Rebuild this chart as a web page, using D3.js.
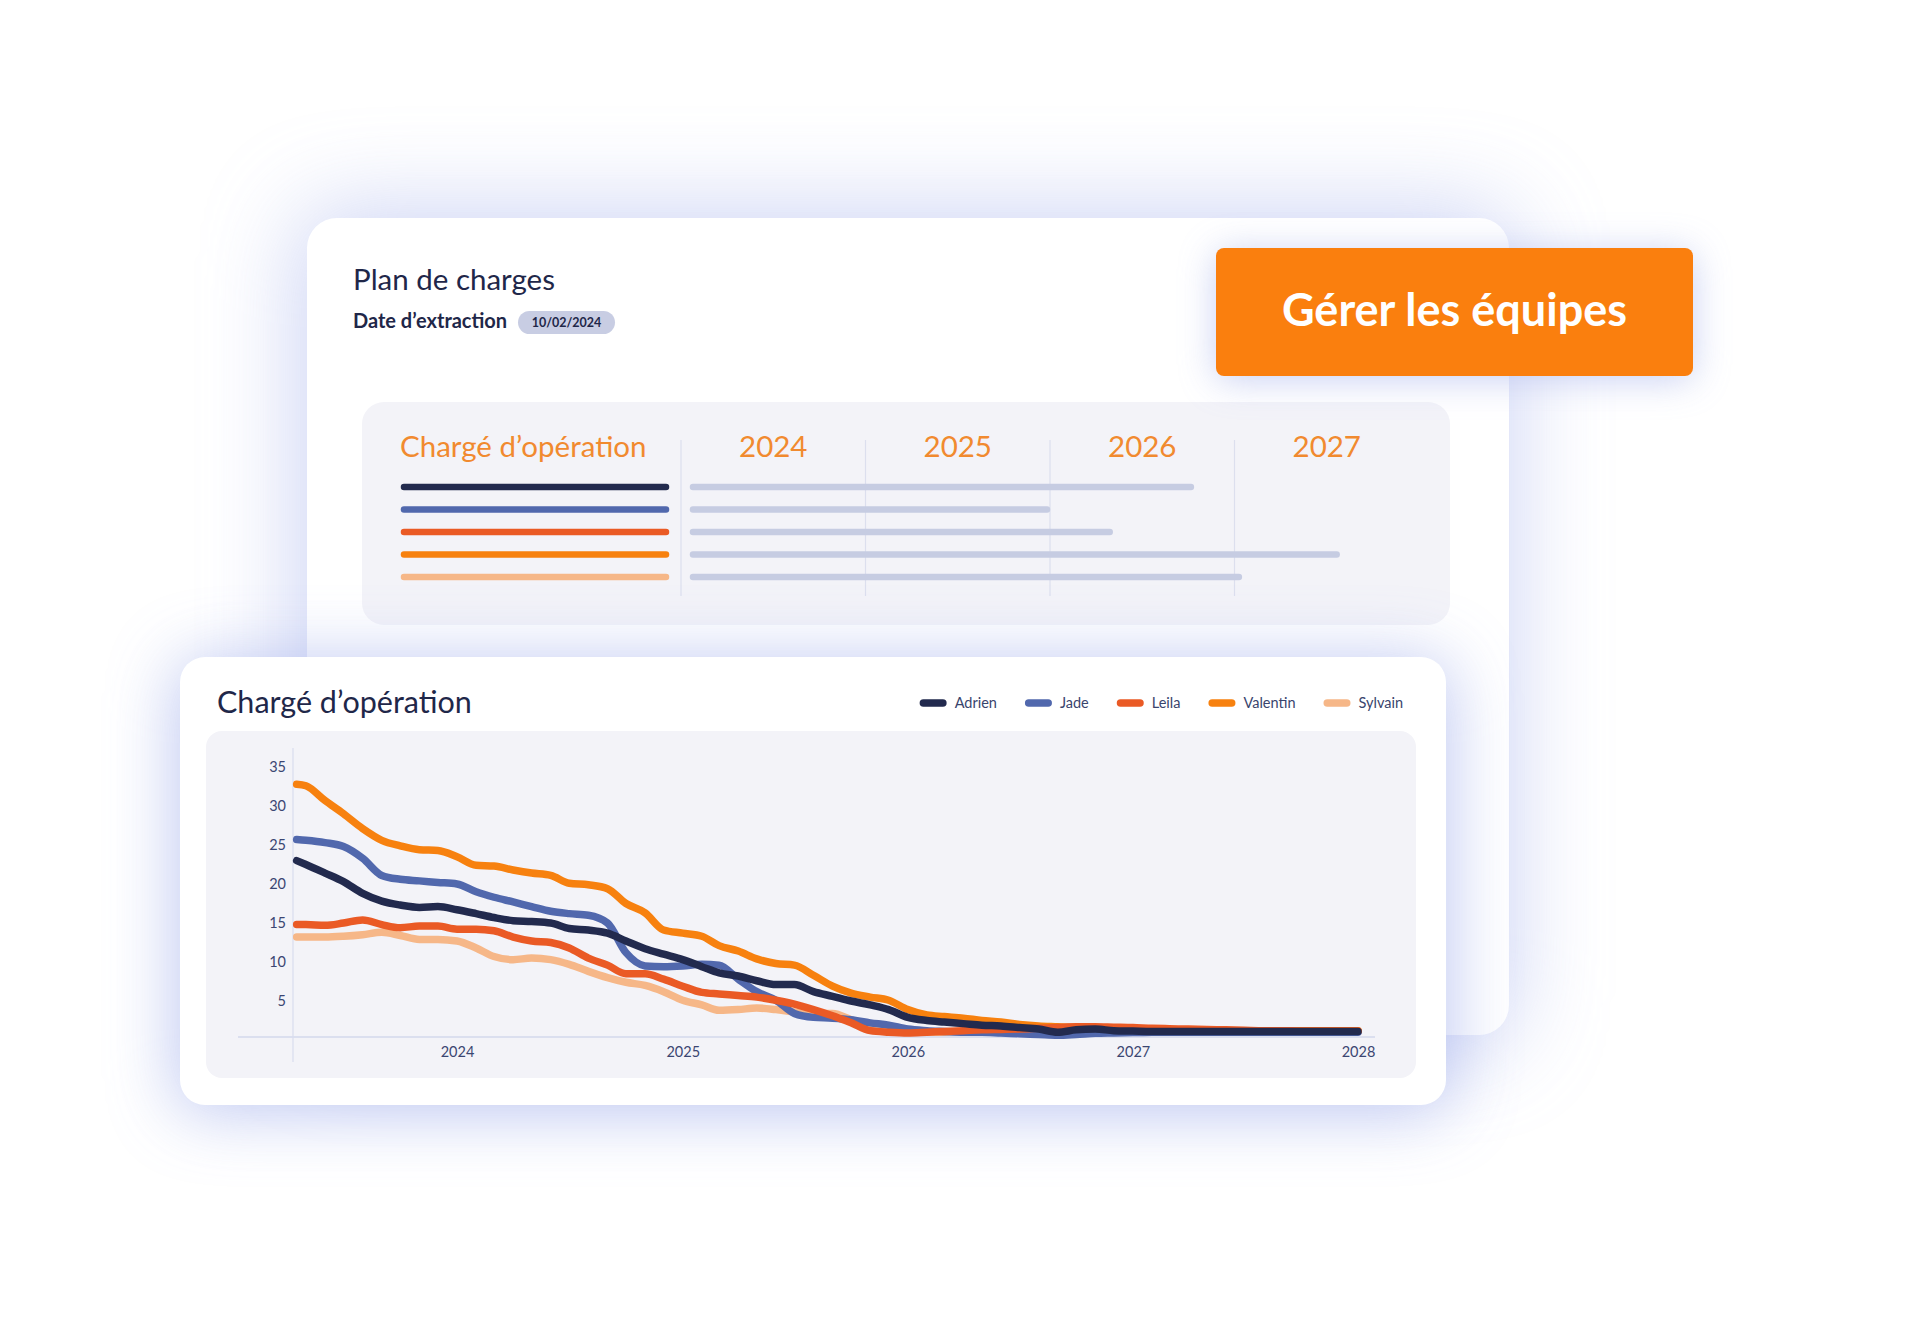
<!DOCTYPE html>
<html>
<head>
<meta charset="utf-8">
<script src="https://cdn.jsdelivr.net/npm/d3@7"></script>
<style>
html,body{margin:0;padding:0;background:#ffffff;}
svg{display:block;font-family:Lato,"Open Sans",sans-serif;}
</style>
</head>
<body>
<svg id="c" width="1921" height="1331"></svg>
<script>
// ---------- DATA ----------
const seriesNames = ["Adrien", "Jade", "Leila", "Valentin", "Sylvain"];
const seriesColors = ["#222a4e", "#5168ad", "#ea5a25", "#f7810f", "#f6b788"];

const dates = [
  "2023-04-16",
  "2023-05-01","2023-06-01","2023-07-01","2023-08-01","2023-09-01","2023-10-01","2023-11-01","2023-12-01",
  "2024-01-01","2024-02-01","2024-03-01","2024-04-01","2024-05-01","2024-06-01","2024-07-01","2024-08-01","2024-09-01","2024-10-01","2024-11-01","2024-12-01",
  "2025-01-01","2025-02-01","2025-03-01","2025-04-01","2025-05-01","2025-06-01","2025-07-01","2025-08-01","2025-09-01","2025-10-01","2025-11-01","2025-12-01",
  "2026-01-01","2026-02-01","2026-03-01","2026-04-01","2026-05-01","2026-06-01","2026-07-01","2026-08-01","2026-09-01","2026-10-01","2026-11-01","2026-12-01",
  "2027-01-01","2027-02-01","2027-03-01","2027-04-01","2027-05-01","2027-06-01","2027-07-01","2027-08-01","2027-09-01","2027-10-01","2027-11-01","2027-12-01",
  "2028-01-01"
];

const adrien = [
  23.0, 22.5, 21.4, 20.3, 18.8, 17.8, 17.3, 17.0, 17.1,
  16.7, 16.2, 15.7, 15.3, 15.2, 15.0, 14.3, 14.1, 13.7, 12.7, 11.7, 11.0,
  10.3, 9.4, 8.6, 8.2, 7.6, 7.1, 7.1, 6.2, 5.6, 5.0, 4.5, 3.9,
  2.9, 2.5, 2.3, 2.1, 1.9, 1.8, 1.6, 1.4, 1.0, 1.3, 1.4, 1.2,
  1.15, 1.1, 1.1, 1.1, 1.1, 1.1, 1.1, 1.1, 1.1, 1.1, 1.1, 1.1,
  1.1
];
const jade = [
  25.7, 25.6, 25.3, 24.8, 23.3, 21.1, 20.6, 20.4, 20.2,
  20.0, 19.0, 18.3, 17.7, 17.1, 16.5, 16.2, 16.0, 15.0, 11.2, 9.5, 9.4,
  9.5, 9.7, 9.6, 7.8, 6.2, 5.1, 3.4, 2.9, 2.8, 2.6, 2.2, 1.9,
  1.4, 1.2, 1.1, 1.0, 1.0, 0.9, 0.8, 0.7, 0.6, 0.7, 0.85, 0.9,
  0.95, 1.0, 1.0, 1.0, 1.0, 1.0, 1.0, 1.0, 1.0, 1.0, 1.0, 1.0,
  1.0
];
const leila = [
  14.8, 14.8, 14.7, 15.0, 15.4, 14.8, 14.4, 14.6, 14.6,
  14.2, 14.2, 14.0, 13.2, 12.7, 12.5, 11.8, 10.5, 9.6, 8.5, 8.5, 7.8,
  6.9, 6.1, 5.9, 5.7, 5.5, 5.1, 4.6, 3.9, 3.1, 2.2, 1.2, 1.0,
  0.9, 1.0, 1.1, 1.2, 1.3, 1.35, 1.4, 1.5, 1.6, 1.7, 1.7, 1.65,
  1.6, 1.5, 1.45, 1.4, 1.35, 1.3, 1.25, 1.2, 1.2, 1.15, 1.15, 1.15,
  1.15
];
const valentin = [
  32.8, 32.6, 30.7, 29.0, 27.1, 25.6, 24.9, 24.4, 24.3,
  23.5, 22.4, 22.3, 21.8, 21.4, 21.1, 20.1, 19.9, 19.4, 17.5, 16.3, 14.1,
  13.7, 13.3, 12.1, 11.4, 10.4, 9.8, 9.6, 8.3, 6.9, 6.0, 5.5, 5.1,
  3.9, 3.2, 3.0, 2.8, 2.5, 2.3, 2.0, 1.8, 1.7, 1.6, 1.5, 1.5,
  1.4, 1.4, 1.3, 1.3, 1.3, 1.2, 1.2, 1.2, 1.2, 1.2, 1.2, 1.2,
  1.2
];
const sylvain = [
  13.2, 13.2, 13.2, 13.3, 13.5, 13.8, 13.4, 12.9, 12.9,
  12.7, 11.8, 10.7, 10.3, 10.5, 10.3, 9.7, 8.8, 8.0, 7.4, 7.0, 6.2,
  5.1, 4.5, 3.8, 3.9, 4.1, 3.9, 3.6, 3.4, 3.4, 2.6, 1.6, 1.2,
  1.0, 1.0, 1.0, 1.1, 1.1, 1.2, 1.2, 1.3, 1.3, 1.4, 1.5, 1.5,
  1.4, 1.4, 1.3, 1.3, 1.3, 1.2, 1.2, 1.2, 1.2, 1.2, 1.2, 1.2,
  1.2
];
const seriesValues = [adrien, jade, leila, valentin, sylvain];

const yTicks = [5, 10, 15, 20, 25, 30, 35];
const xTickYears = ["2024", "2025", "2026", "2027", "2028"];

// back panel (plan de charges)
const planYears = [2024, 2025, 2026, 2027];
const planEnd = [2026.78, 2026.0, 2026.34, 2027.57, 2027.04];

const texts = {
  planTitle: "Plan de charges",
  dateLabel: "Date d\u2019extraction",
  dateValue: "10/02/2024",
  button: "G\u00e9rer les \u00e9quipes",
  colTitle: "Charg\u00e9 d\u2019op\u00e9ration",
  chartTitle: "Charg\u00e9 d\u2019op\u00e9ration"
};

// ---------- DRAW ----------
const svg = d3.select("#c");
const defs = svg.append("defs");
function blurFilter(id, sd) {
  const f = defs.append("filter").attr("id", id)
    .attr("x", "-50%").attr("y", "-50%").attr("width", "200%").attr("height", "200%");
  f.append("feGaussianBlur").attr("stdDeviation", sd);
}
blurFilter("blurBig", 48);
blurFilter("blurMid", 34);
blurFilter("blurBtn", 18);

const navy = "#1f2749";

// back card shadow + card
svg.append("rect").attr("x", 300).attr("y", 212).attr("width", 1210).attr("height", 830)
  .attr("rx", 30).attr("fill", "#b9c3f0").attr("opacity", 0.75).attr("filter", "url(#blurBig)");
svg.append("rect").attr("x", 307).attr("y", 218).attr("width", 1202).attr("height", 817)
  .attr("rx", 30).attr("fill", "#ffffff");

// header texts
svg.append("text").attr("x", 353).attr("y", 290).attr("fill", navy)
  .attr("font-size", 29.5).attr("font-weight", 400).text(texts.planTitle);
svg.append("text").attr("x", 353).attr("y", 328).attr("fill", navy)
  .attr("font-size", 20).attr("font-weight", 700).text(texts.dateLabel);
svg.append("rect").attr("x", 518).attr("y", 311).attr("width", 97).attr("height", 23)
  .attr("rx", 11.5).attr("fill", "#c8cde3");
svg.append("text").attr("x", 566.5).attr("y", 327).attr("text-anchor", "middle").attr("fill", navy)
  .attr("font-size", 12.5).attr("font-weight", 700).text(texts.dateValue);

// back inner panel
svg.append("rect").attr("x", 362).attr("y", 402).attr("width", 1088).attr("height", 223)
  .attr("rx", 22).attr("fill", "#f3f3f8");

const orangeText = "#f18a2f";
const xb = d3.scaleLinear().domain([2024, 2028]).range([681, 1419]);
svg.append("text").attr("x", 400).attr("y", 457).attr("fill", orangeText)
  .attr("font-size", 29.5).attr("font-weight", 400).text(texts.colTitle);
svg.selectAll("text.planYear").data(planYears).enter().append("text")
  .attr("class", "planYear")
  .attr("x", d => xb(d + 0.5)).attr("y", 457).attr("text-anchor", "middle")
  .attr("fill", orangeText).attr("font-size", 29.5).text(d => d);
svg.selectAll("line.sep").data(planYears).enter().append("line")
  .attr("class", "sep")
  .attr("x1", d => xb(d)).attr("x2", d => xb(d)).attr("y1", 440).attr("y2", 596)
  .attr("stroke", "#dcdfee").attr("stroke-width", 1.2);

const rowY = d3.scalePoint().domain(seriesNames).range([487, 577]);
svg.selectAll("line.colorBar").data(seriesNames).enter().append("line")
  .attr("class", "colorBar")
  .attr("x1", 404).attr("x2", 666)
  .attr("y1", d => rowY(d)).attr("y2", d => rowY(d))
  .attr("stroke", (d, i) => seriesColors[i]).attr("stroke-width", 6.5).attr("stroke-linecap", "round");
svg.selectAll("line.grayBar").data(planEnd).enter().append("line")
  .attr("class", "grayBar")
  .attr("x1", xb(2024) + 12).attr("x2", d => xb(d) - 3)
  .attr("y1", (d, i) => rowY(seriesNames[i])).attr("y2", (d, i) => rowY(seriesNames[i]))
  .attr("stroke", "#c6cce2").attr("stroke-width", 6.5).attr("stroke-linecap", "round");

// button
svg.append("rect").attr("x", 1216).attr("y", 252).attr("width", 477).attr("height", 128)
  .attr("rx", 10).attr("fill", "#bcc5ef").attr("opacity", 0.8).attr("filter", "url(#blurBtn)");
svg.append("rect").attr("x", 1216).attr("y", 248).attr("width", 477).attr("height", 128)
  .attr("rx", 8).attr("fill", "#fa7f0e");
svg.append("text").attr("x", 1454.5).attr("y", 326).attr("text-anchor", "middle")
  .attr("fill", "#ffffff").attr("font-size", 45).attr("font-weight", 700).text(texts.button);

// front card
svg.append("rect").attr("x", 176).attr("y", 660).attr("width", 1274).attr("height", 452)
  .attr("rx", 25).attr("fill", "#aebaee").attr("opacity", 0.8).attr("filter", "url(#blurMid)");
svg.append("rect").attr("x", 180).attr("y", 657).attr("width", 1266).attr("height", 448)
  .attr("rx", 25).attr("fill", "#ffffff");

svg.append("text").attr("x", 217).attr("y", 713).attr("fill", navy)
  .attr("font-size", 30.5).attr("font-weight", 400).text(texts.chartTitle);

// legend (right aligned)
const legend = svg.append("g");
const legItems = legend.selectAll("g").data(seriesNames).enter().append("g");
legItems.append("rect").attr("x", 0).attr("y", -3.75).attr("width", 27).attr("height", 7.5)
  .attr("rx", 3.75).attr("fill", (d, i) => seriesColors[i]);
legItems.append("text").attr("x", 35).attr("y", 5).attr("fill", "#39446d")
  .attr("font-size", 14.5).text(d => d);
let cursor = 0;
const legGap = 28;
legItems.each(function () {
  const w = d3.select(this).select("text").node().getComputedTextLength();
  d3.select(this).attr("transform", `translate(${cursor},0)`);
  cursor += 35 + w + legGap;
});
const totalW = cursor - legGap;
legend.attr("transform", `translate(${1403 - totalW},703)`);

// chart inner panel
svg.append("rect").attr("x", 206).attr("y", 731).attr("width", 1210).attr("height", 347)
  .attr("rx", 16).attr("fill", "#f3f3f8");

const parse = d3.timeParse("%Y-%m-%d");
const x = d3.scaleTime().domain([new Date(2024, 0, 1), new Date(2028, 0, 1)]).range([457, 1358]);
const y = d3.scaleLinear().domain([0, 35]).range([1040, 767]);

// axes lines
svg.append("line").attr("x1", 238).attr("x2", 1375).attr("y1", y(0) - 3).attr("y2", y(0) - 3)
  .attr("stroke", "#d3d8ec").attr("stroke-width", 1.3);
svg.append("line").attr("x1", 293).attr("x2", 293).attr("y1", 748).attr("y2", 1062)
  .attr("stroke", "#d9ddee").attr("stroke-width", 1.2);

const yAxis = svg.append("g").attr("transform", "translate(293,0)")
  .call(d3.axisLeft(y).tickValues(yTicks).tickSize(0).tickPadding(7));
yAxis.select(".domain").remove();
yAxis.selectAll("text").attr("fill", "#3b4672").attr("font-size", 14.5).attr("font-family", "Lato, sans-serif");

const xAxis = svg.append("g").attr("transform", `translate(0,${y(0) - 3})`)
  .call(d3.axisBottom(x).tickValues(xTickYears.map(s => new Date(+s, 0, 1)))
    .tickFormat(d3.timeFormat("%Y")).tickSize(0).tickPadding(10));
xAxis.select(".domain").remove();
xAxis.selectAll("text").attr("fill", "#3b4672").attr("font-size", 14.5).attr("font-family", "Lato, sans-serif");

// lines
const line = d3.line().x(d => x(d[0])).y(d => y(d[1])).curve(d3.curveMonotoneX);
const drawOrder = [4, 1, 3, 2, 0];
drawOrder.forEach(i => {
  const pts = dates.map((s, k) => [parse(s), seriesValues[i][k]]);
  svg.append("path").datum(pts).attr("d", line)
    .attr("fill", "none").attr("stroke", seriesColors[i]).attr("stroke-width", 7.5)
    .attr("stroke-linecap", "round").attr("stroke-linejoin", "round");
});
</script>
</body>
</html>
